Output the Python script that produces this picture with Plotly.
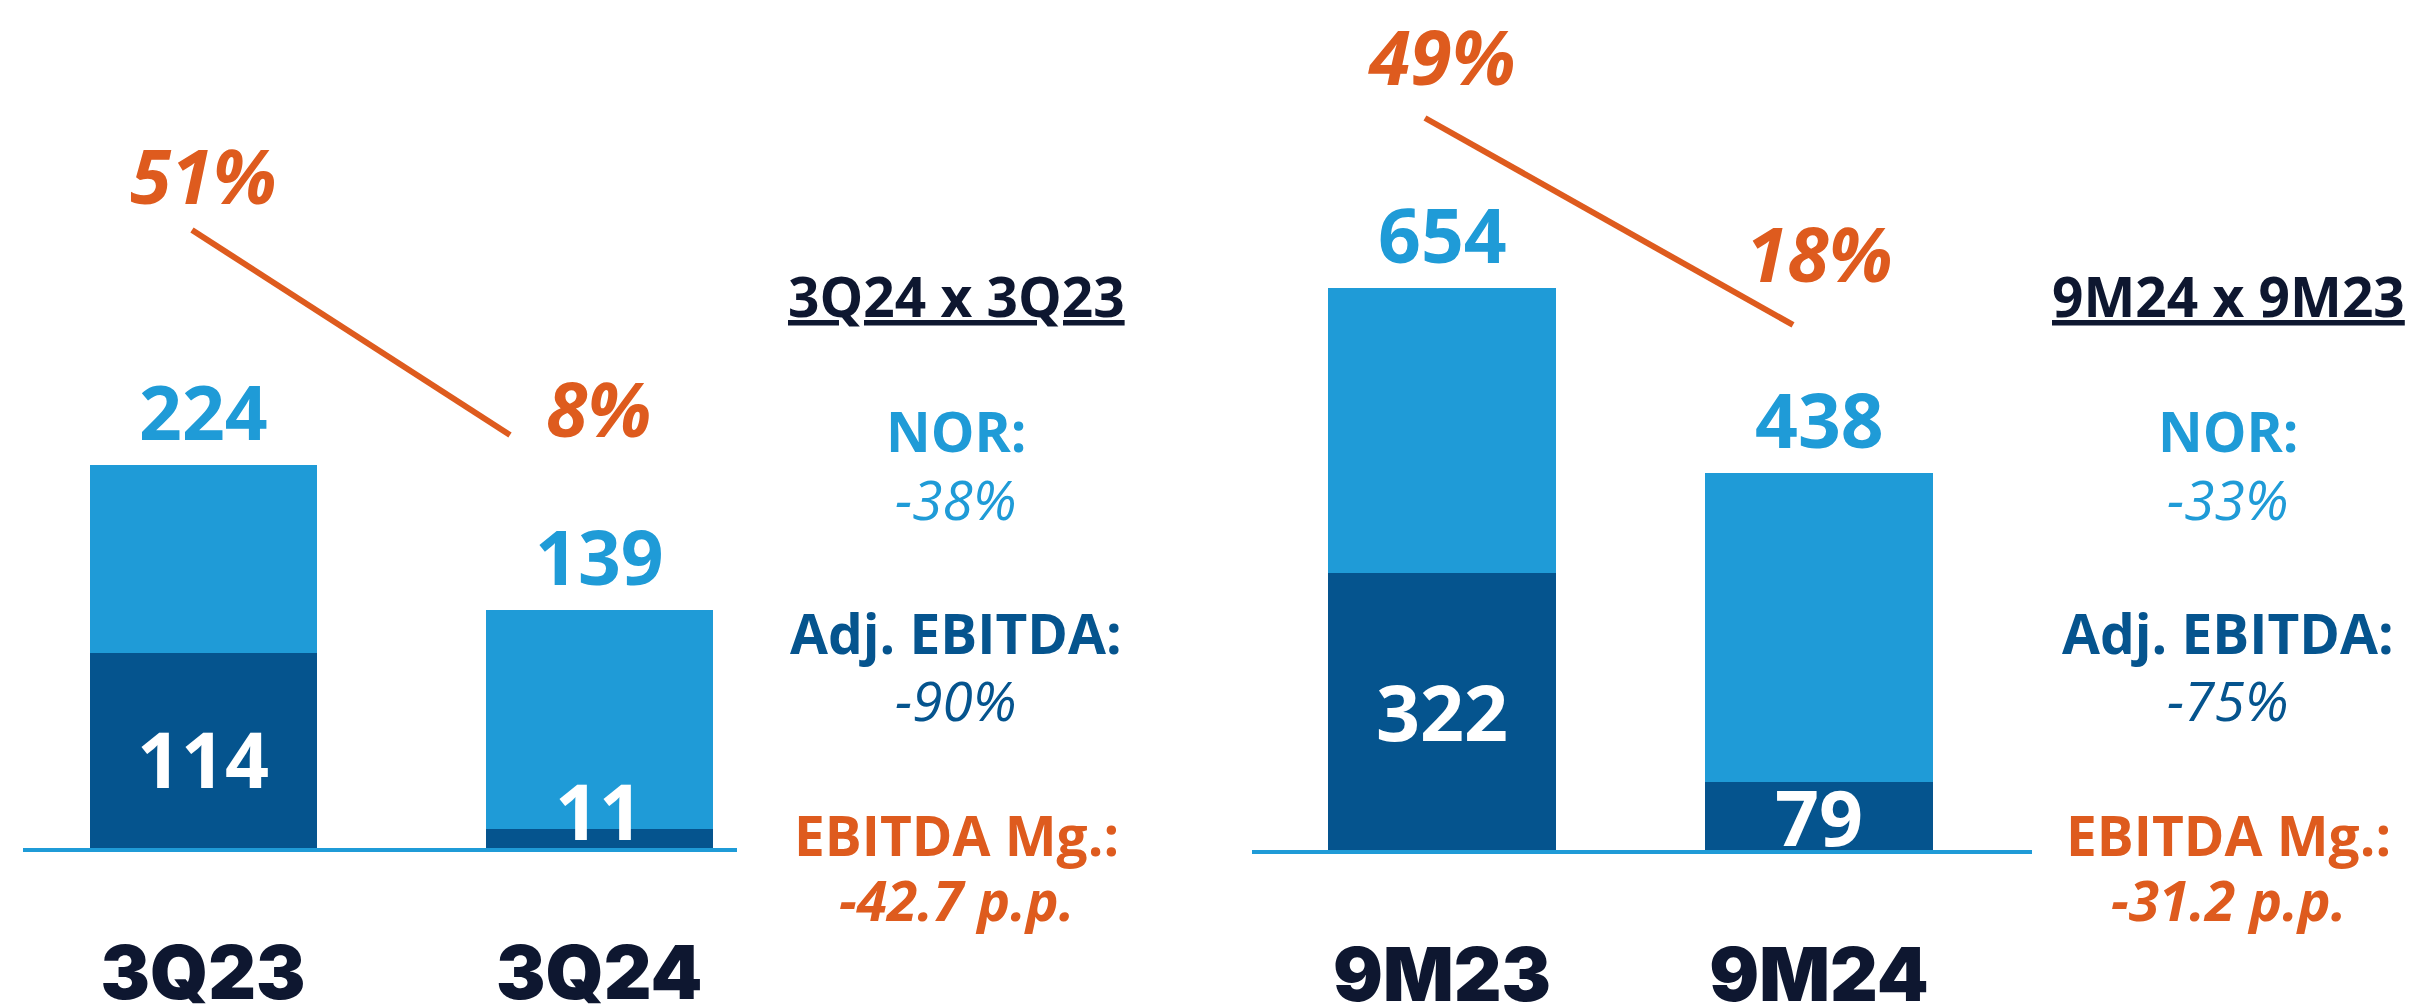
import plotly.graph_objects as go

# ---------------- data ----------------
periods_q = ["3Q23", "3Q24"]
nor_q = [224, 139]
ebitda_q = [114, 11]
margin_q = [51, 8]

periods_9m = ["9M23", "9M24"]
nor_9m = [654, 438]
ebitda_9m = [322, 79]
margin_9m = [49, 18]

summary_titles = ["3Q24 x 3Q23", "9M24 x 9M23"]
nor_changes = ["-38%", "-33%"]
ebitda_changes = ["-90%", "-75%"]
margin_changes = ["-42.7 p.p.", "-31.2 p.p."]

# ---------------- style ----------------
W, H = 2418, 1004
LIGHT = "#1F9BD7"
DARK = "#05548E"
ORANGE = "#DE5B1E"
NAVY = "#0E1730"
FONT = "Open Sans"

fig = go.Figure()

panels = [
    dict(cats=periods_q, nor=nor_q, ebit=ebitda_q, mg=margin_q,
         xa="x", ya="y", xl="x3", yl="y3", width=0.573,
         mg_shift=[55, 27], in_shift=[-8, 28]),
    dict(cats=periods_9m, nor=nor_9m, ebit=ebitda_9m, mg=margin_9m,
         xa="x2", ya="y2", xl="x4", yl="y4", width=0.603,
         mg_shift=[62, 72], in_shift=[0, 0]),
]

annotations = []
for p in panels:
    rest = [n - e for n, e in zip(p["nor"], p["ebit"])]
    fig.add_trace(go.Bar(x=p["cats"], y=p["ebit"], width=p["width"],
                         marker=dict(color=DARK, line=dict(width=0)),
                         xaxis=p["xa"], yaxis=p["ya"], hoverinfo="skip"))
    fig.add_trace(go.Bar(x=p["cats"], y=rest, width=p["width"],
                         marker=dict(color=LIGHT, line=dict(width=0)),
                         xaxis=p["xa"], yaxis=p["ya"], hoverinfo="skip"))
    fig.add_trace(go.Scatter(x=p["cats"], y=p["mg"], mode="lines",
                             line=dict(color=ORANGE, width=6),
                             xaxis=p["xl"], yaxis=p["yl"], hoverinfo="skip"))
    for i, c in enumerate(p["cats"]):
        # total NOR label above the bar
        annotations.append(dict(x=c, y=p["nor"][i], xref=p["xa"], yref=p["ya"],
                                text=f"<b>{p['nor'][i]}</b>", showarrow=False,
                                yanchor="middle", yshift=54,
                                font=dict(family=FONT, size=75, color=LIGHT)))
        # EBITDA label inside dark segment
        annotations.append(dict(x=c, y=p["ebit"][i] / 2, xref=p["xa"], yref=p["ya"],
                                text=f"<b>{p['ebit'][i]}</b>", showarrow=False,
                                yanchor="middle", yshift=p["in_shift"][i],
                                font=dict(family=FONT, size=77, color="white")))
        # margin label
        annotations.append(dict(x=c, y=p["mg"][i], xref=p["xa"], yref=p["yl"],
                                text=f"<b><i>{p['mg'][i]}%</i></b>", showarrow=False,
                                yanchor="middle", yshift=p["mg_shift"][i],
                                font=dict(family=FONT, size=75, color=ORANGE)))

# side summaries
side_x = [956, 2228]
for k in range(2):
    xp = side_x[k] / W
    rows = [
        (f"<b><u>{summary_titles[k]}</u></b>", NAVY, 296),
        ("<b>NOR:</b>", LIGHT, 430),
        (f"<i>{nor_changes[k]}</i>", LIGHT, 498),
        ("<b>Adj. EBITDA:</b>", DARK, 632),
        (f"<i>{ebitda_changes[k]}</i>", DARK, 699),
        ("<b>EBITDA Mg.:</b>", ORANGE, 834),
        (f"<b><i>{margin_changes[k]}</i></b>", ORANGE, 899),
    ]
    for txt, col, py in rows:
        annotations.append(dict(x=xp, y=1 - py / H, xref="paper", yref="paper",
                                text=txt, showarrow=False, xanchor="center",
                                yanchor="middle",
                                font=dict(family=FONT, size=55, color=col)))

cat_axis = dict(showline=True, linecolor=LIGHT, linewidth=4, showgrid=False,
                zeroline=False, ticks="outside", ticklen=58, automargin=False,
                tickcolor="rgba(0,0,0,0)", fixedrange=True,
                tickfont=dict(family="Inter", size=74, color=NAVY, weight=900))
hidden = dict(visible=False, showgrid=False, zeroline=False, fixedrange=True,
              automargin=False)

fig.update_layout(
    width=W, height=H,
    margin=dict(l=0, r=0, t=0, b=0, autoexpand=False),
    paper_bgcolor="white", plot_bgcolor="rgba(0,0,0,0)",
    barmode="stack", showlegend=False, hovermode=False,
    xaxis=dict(cat_axis, domain=[23 / W, 737 / W], range=[-0.4545, 1.348],
               anchor="y", type="category"),
    yaxis=dict(hidden, domain=[1 - 848 / H, 1], range=[0, 848 / 1.71], anchor="x"),
    xaxis2=dict(cat_axis, domain=[1252 / W, 2032 / W], range=[-0.504, 1.565],
                anchor="y2", type="category"),
    yaxis2=dict(hidden, domain=[1 - 850 / H, 1], range=[0, 850 / 0.86], anchor="x2"),
    xaxis3=dict(hidden, domain=[33 / W, 669 / W], range=[-0.5, 1.5],
                anchor="y3", type="category"),
    yaxis3=dict(hidden, domain=[0, 1], range=[-111.35, 99.25], anchor="x3"),
    xaxis4=dict(hidden, domain=[1241 / W, 1977 / W], range=[-0.5, 1.5],
                anchor="y4", type="category"),
    yaxis4=dict(hidden, domain=[0, 1], range=[-83.69, 66.67], anchor="x4"),
    annotations=annotations,
)

fig.write_html(
    "out.html",
    config={"displayModeBar": False, "staticPlot": True},
    post_script="document.body.style.margin='0px';document.body.style.overflow='hidden';",
)
